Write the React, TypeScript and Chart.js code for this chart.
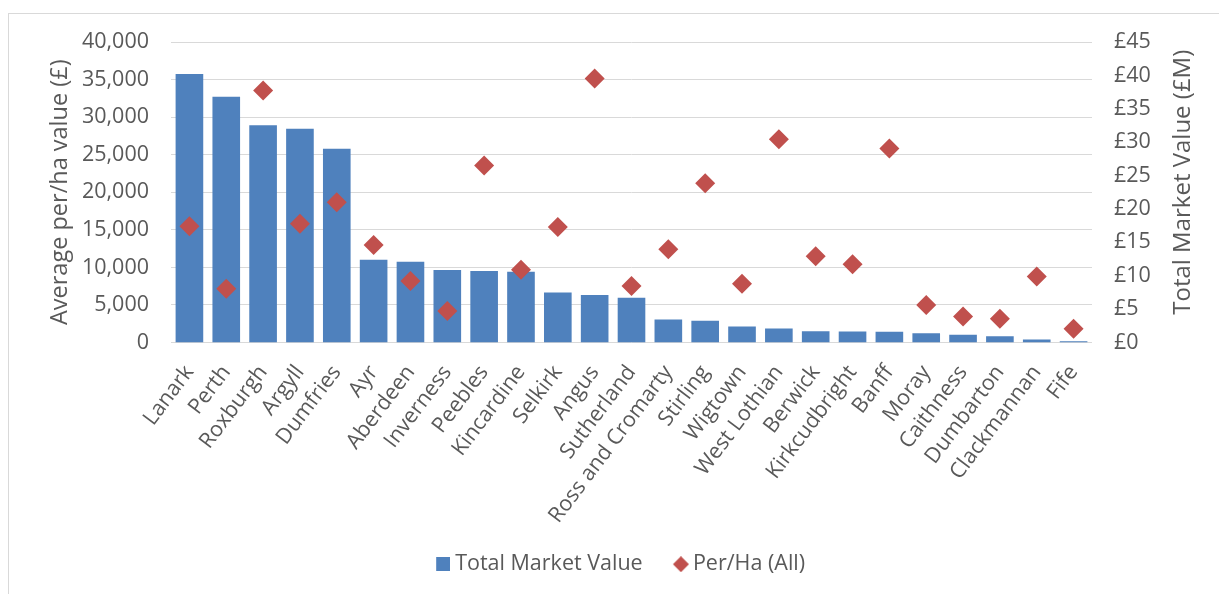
import React, { useEffect, useRef } from 'react';
import { Chart, registerables } from 'chart.js';

Chart.register(...registerables);

// ---- Data ----
const counties = [
  'Lanark', 'Perth', 'Roxburgh', 'Argyll', 'Dumfries', 'Ayr', 'Aberdeen', 'Inverness',
  'Peebles', 'Kincardine', 'Selkirk', 'Angus', 'Sutherland', 'Ross and Cromarty',
  'Stirling', 'Wigtown', 'West Lothian', 'Berwick', 'Kirkcudbright', 'Banff', 'Moray',
  'Caithness', 'Dumbarton', 'Clackmannan', 'Fife',
];

// Total Market Value (£M) – right axis
const totalMarketValue = [
  40.2, 36.8, 32.55, 32.0, 29.0, 12.4, 12.1, 10.85, 10.7, 10.6, 7.5, 7.1, 6.7,
  3.45, 3.25, 2.4, 2.1, 1.7, 1.65, 1.6, 1.4, 1.15, 0.95, 0.45, 0.2,
];

// Average per/ha value (£) – left axis
const perHaAll = [
  15470, 7155, 33550, 15820, 18670, 12980, 8180, 4180, 23560, 9690, 15380, 35150, 7510,
  12400, 21200, 7820, 27070, 11470, 10400, 25820, 4980, 3470, 3155, 8800, 1820,
];

const barLabel = 'Total Market Value';
const pointLabel = 'Per/Ha (All)';
const leftTitle = 'Average per/ha value (£)';
const rightTitle = 'Total Market Value (£M)';

const FONT = '"Open Sans", sans-serif';
const GREY = '#595959';
const BLUE = '#4F81BD';
const RED = '#C0504D';
const TICK_SIZE = 21.5;

// legend swatch images: the mark sits at the right side of the image
function makeSquare(): HTMLCanvasElement {
  const c = document.createElement('canvas');
  c.width = 23;
  c.height = 14;
  const ctx = c.getContext('2d')!;
  ctx.fillStyle = BLUE;
  ctx.fillRect(9, 0, 14, 14);
  return c;
}

function makeDiamond(): HTMLCanvasElement {
  const c = document.createElement('canvas');
  c.width = 25;
  c.height = 16;
  const ctx = c.getContext('2d')!;
  ctx.fillStyle = RED;
  ctx.beginPath();
  ctx.moveTo(17, 0);
  ctx.lineTo(25, 8);
  ctx.lineTo(17, 16);
  ctx.lineTo(9, 8);
  ctx.closePath();
  ctx.fill();
  return c;
}

const rightTitlePlugin = {
  id: 'rightTitle',
  afterDraw(chart: any) {
    const { ctx, chartArea } = chart;
    const y1 = chart.scales.y1;
    ctx.save();
    ctx.font = `24px ${FONT}`;
    ctx.fillStyle = GREY;
    ctx.textAlign = 'center';
    ctx.textBaseline = 'middle';
    ctx.translate(y1.right - 36, (chartArea.top + chartArea.bottom) / 2 - 10);
    ctx.rotate(-Math.PI / 2);
    ctx.fillText(rightTitle, 0, 0);
    ctx.restore();
  },
};

export default function App() {
  const ref = useRef<HTMLCanvasElement | null>(null);

  useEffect(() => {
    if (!ref.current) return;
    const square = makeSquare();
    const diamond = makeDiamond();

    const chart = new Chart(ref.current, {
      type: 'bar',
      data: {
        labels: counties,
        datasets: [
          {
            type: 'bar',
            label: barLabel,
            data: totalMarketValue,
            backgroundColor: BLUE,
            borderWidth: 0,
            yAxisID: 'y1',
            barPercentage: 0.75,
            categoryPercentage: 1,
            order: 2,
          } as any,
          {
            type: 'line',
            label: pointLabel,
            data: perHaAll,
            yAxisID: 'y',
            showLine: false,
            pointStyle: 'rectRot',
            pointRadius: 10,
            pointBackgroundColor: RED,
            pointBorderColor: RED,
            pointBorderWidth: 0,
            backgroundColor: RED,
            borderColor: RED,
            order: 1,
          } as any,
        ],
      },
      options: {
        responsive: false,
        animation: false,
        layout: { padding: { top: 28, bottom: 9, left: 10, right: 0 } },
        plugins: {
          tooltip: { enabled: false },
          legend: {
            position: 'bottom',
            labels: {
              usePointStyle: true,
              boxWidth: 11.5,
              padding: 28,
              color: GREY,
              font: { family: FONT, size: 21.5 },
              generateLabels: (c: any) => {
                const items = Chart.defaults.plugins.legend.labels.generateLabels(c);
                items.sort((a: any, b: any) => a.datasetIndex - b.datasetIndex);
                items.forEach((it: any) => {
                  it.pointStyle = it.datasetIndex === 0 ? square : diamond;
                });
                return items;
              },
            },
          },
        },
        scales: {
          x: {
            grid: { display: false, drawTicks: false },
            border: { display: false },
            ticks: {
              autoSkip: false,
              minRotation: 53,
              maxRotation: 53,
              padding: 18,
              color: GREY,
              font: { family: FONT, size: TICK_SIZE },
            },
            afterFit: (s: any) => {
              s.height = 183;
            },
          },
          y: {
            position: 'left',
            min: 0,
            max: 40000,
            grid: { color: '#D9D9D9', lineWidth: 1, drawTicks: false },
            border: { display: false },
            ticks: {
              stepSize: 5000,
              padding: 22,
              color: GREY,
              font: { family: FONT, size: TICK_SIZE },
              callback: (v: any) => Number(v).toLocaleString('en-US'),
            },
            title: {
              display: true,
              text: leftTitle,
              color: GREY,
              font: { family: FONT, size: 23.5 },
              padding: { top: 27, bottom: 0 },
            },
            afterFit: (s: any) => {
              s.width = 152;
              s.paddingTop = 0;
              s.paddingBottom = 0;
            },
          },
          y1: {
            position: 'right',
            min: 0,
            max: 45,
            grid: { display: false, drawTicks: false },
            border: { display: false },
            ticks: {
              stepSize: 5,
              padding: 22,
              color: GREY,
              font: { family: FONT, size: TICK_SIZE },
              callback: (v: any) => '£' + v,
            },
            afterFit: (s: any) => {
              s.width = 127;
              s.paddingTop = 0;
              s.paddingBottom = 0;
            },
          },
        },
      },
      plugins: [rightTitlePlugin],
    });

    return () => chart.destroy();
  }, []);

  return (
    <div
      style={{
        position: 'absolute',
        left: 8,
        top: 13,
        width: 1211,
        height: 581,
        boxSizing: 'border-box',
        borderLeft: '1px solid #D9D9D9',
        borderTop: '1px solid #D9D9D9',
        overflow: 'hidden',
        background: '#fff',
      }}
    >
      <canvas ref={ref} width={1210} height={580} style={{ display: 'block' }} />
    </div>
  );
}
